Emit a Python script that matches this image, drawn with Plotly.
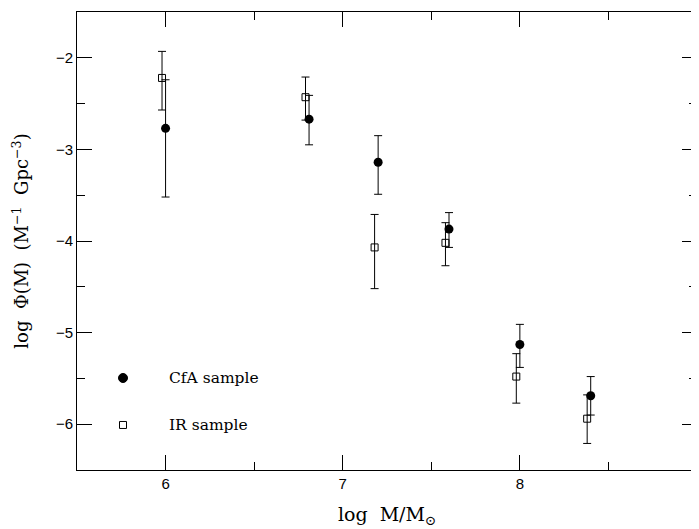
import plotly.graph_objects as go
import numpy as np

# CfA sample (filled circles)
cfa_x = [6.0, 6.81, 7.2, 7.6, 8.0, 8.4]
cfa_y = [-2.77, -2.67, -3.14, -3.87, -5.13, -5.69]
cfa_hi = [-2.24, -2.41, -2.85, -3.69, -4.91, -5.48]
cfa_lo = [-3.52, -2.95, -3.49, -4.07, -5.38, -5.90]

# IR sample (open squares)
ir_x = [5.98, 6.79, 7.18, 7.58, 7.98, 8.38]
ir_y = [-2.22, -2.43, -4.07, -4.02, -5.48, -5.94]
ir_hi = [-1.93, -2.21, -3.71, -3.80, -5.23, -5.68]
ir_lo = [-2.57, -2.68, -4.52, -4.27, -5.77, -6.21]

x_ticks = [6, 7, 8, 9]
y_ticks = [-6, -5, -4, -3, -2]
legend_labels = ["CfA sample", "IR sample"]

serif = "DejaVu Serif"
sans = "Liberation Sans"

def errs(y, hi, lo):
    y = np.array(y); return (np.array(hi) - y).tolist(), (y - np.array(lo)).tolist()

cp, cm = errs(cfa_y, cfa_hi, cfa_lo)
ip, im = errs(ir_y, ir_hi, ir_lo)

fig = go.Figure()
fig.add_trace(go.Scatter(
    x=cfa_x, y=cfa_y, mode="markers", name=legend_labels[0], showlegend=False,
    marker=dict(symbol="circle", size=9, color="black"),
    error_y=dict(type="data", symmetric=False, array=cp, arrayminus=cm,
                 color="black", thickness=1, width=4),
))
fig.add_trace(go.Scatter(
    x=ir_x, y=ir_y, mode="markers", name=legend_labels[1], showlegend=False,
    marker=dict(symbol="square-open", size=7, color="black", line=dict(width=1)),
    error_y=dict(type="data", symmetric=False, array=ip, arrayminus=im,
                 color="black", thickness=1, width=4),
))

axis_common = dict(
    showline=True, linecolor="black", linewidth=1, mirror="ticks",
    ticks="inside", ticklen=15, tickwidth=1, tickcolor="black",
    showgrid=False, zeroline=False, automargin=False, ticklabeloverflow="allow",
    tickfont=dict(family=sans, size=15, color="black"),
)

fig.update_xaxes(
    range=[5.5, 9.0], tickvals=x_ticks,
    minor=dict(dtick=0.5, ticks="inside", ticklen=8, tickcolor="black", showgrid=False),
    title=dict(text="log  M/M<sub>⊙</sub>", font=dict(family=serif, size=19, color="black"), standoff=16),
    **axis_common,
)
fig.update_yaxes(
    range=[-6.5, -1.5], tickvals=y_ticks,
    minor=dict(dtick=0.5, ticks="inside", ticklen=8, tickcolor="black", showgrid=False),
    title=dict(text="log  Φ(M)  (M<sup>−1</sup>  Gpc<sup>−3</sup>)", font=dict(family=serif, size=18, color="black"), standoff=22),
    **axis_common,
)

# legend keys (drawn as key glyphs in paper space, sized in pixels)
key_x = 0.0742
key_y = [0.2009, 0.0983]
text_x = 0.1452
fig.add_shape(type="circle", xref="paper", yref="paper", xsizemode="pixel", ysizemode="pixel",
              xanchor=key_x, yanchor=key_y[0], x0=-4.5, x1=4.5, y0=-4.5, y1=4.5,
              fillcolor="black", line=dict(color="black", width=1))
fig.add_shape(type="rect", xref="paper", yref="paper", xsizemode="pixel", ysizemode="pixel",
              xanchor=key_x, yanchor=key_y[1], x0=-3.5, x1=3.5, y0=-3.5, y1=3.5,
              fillcolor="rgba(0,0,0,0)", line=dict(color="black", width=1))
for lab, ky in zip(legend_labels, key_y):
    fig.add_annotation(x=text_x, y=ky, xref="paper", yref="paper", text=lab, showarrow=False,
                       xanchor="left", yanchor="middle",
                       font=dict(family=serif, size=15.5, color="black"))

fig.update_layout(
    width=691, height=521,
    margin=dict(l=69, r=2, t=4, b=59),
    plot_bgcolor="white", paper_bgcolor="white",
    showlegend=False,
)

fig.write_html("out.html")
